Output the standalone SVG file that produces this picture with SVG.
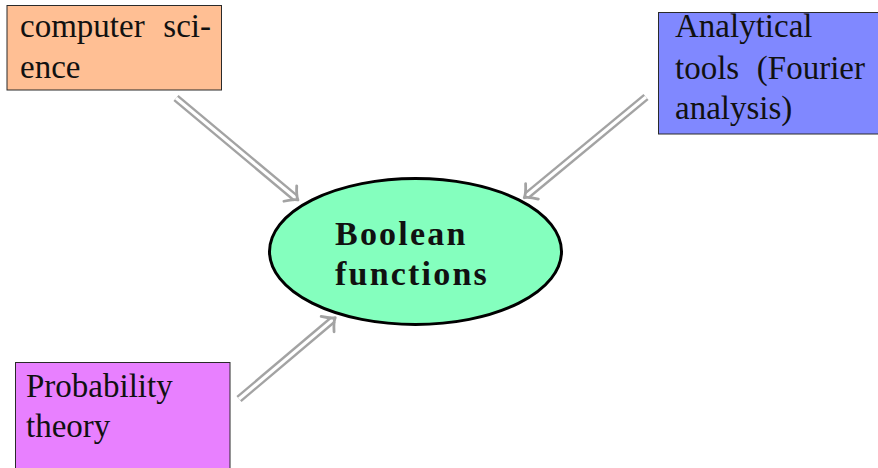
<svg xmlns="http://www.w3.org/2000/svg" width="878" height="468" viewBox="0 0 878 468">
  <style>
    .box { stroke: #2a2a2a; stroke-width: 1; }
    .lbl { font-family: "Liberation Serif", "DejaVu Serif", serif; font-size: 33px; fill: #111; }
    .bold { font-weight: bold; font-size: 34px; letter-spacing: 2.2px; }
    .outer { stroke: #a3a3a3; stroke-width: 8; fill: none; }
    .inner { stroke: #ffffff; stroke-width: 3.2; fill: none; }
    .head { stroke: #a3a3a3; stroke-width: 2.8; fill: none; stroke-linecap: round; stroke-linejoin: round; }
  </style>
  <rect width="878" height="468" fill="#ffffff"/>

  <g id="connectors">
    <!-- computer science -> Boolean functions -->
    <g transform="translate(176,98) rotate(39.9)">
      <line class="outer" x1="0" y1="0" x2="156" y2="0"/>
      <line class="inner" x1="0" y1="0" x2="156" y2="0"/>
      <path class="head" d="M149,-10 Q155,-2 159,0 Q155,2 149,10"/>
    </g>
    <!-- Analytical tools -> Boolean functions -->
    <g transform="translate(646,97) rotate(140.4)">
      <line class="outer" x1="0" y1="0" x2="155" y2="0"/>
      <line class="inner" x1="0" y1="0" x2="155" y2="0"/>
      <path class="head" d="M148,-10 Q154,-2 158,0 Q154,2 148,10"/>
    </g>
    <!-- Probability theory -> Boolean functions -->
    <g transform="translate(239,399) rotate(-40.2)">
      <line class="outer" x1="0" y1="0" x2="123" y2="0"/>
      <line class="inner" x1="0" y1="0" x2="123" y2="0"/>
      <path class="head" d="M116,-10 Q122,-2 126,0 Q122,2 116,10"/>
    </g>
  </g>

  <g id="computer-science">
    <rect class="box" x="7" y="5.5" width="214.5" height="84.5" fill="#ffbf94"/>
    <text class="lbl" x="20" y="37">computer</text>
    <text class="lbl" x="211" y="37" text-anchor="end">sci-</text>
    <text class="lbl" x="20" y="78">ence</text>
  </g>

  <g id="analytical-tools">
    <rect class="box" x="658.5" y="12.5" width="225" height="121.5" fill="#8088ff"/>
    <text class="lbl" x="675" y="37">Analytical</text>
    <text class="lbl" x="675" y="79">tools</text>
    <text class="lbl" x="865" y="79" text-anchor="end">(Fourier</text>
    <text class="lbl" x="675" y="119">analysis)</text>
  </g>

  <g id="probability-theory">
    <rect class="box" x="15.5" y="362.5" width="214.5" height="112" fill="#e880ff"/>
    <text class="lbl" x="26" y="397">Probability</text>
    <text class="lbl" x="26" y="437">theory</text>
  </g>

  <g id="boolean-functions">
    <ellipse cx="415.5" cy="251.5" rx="146" ry="73" fill="#84ffbe" stroke="#000" stroke-width="3"/>
    <text class="lbl bold" x="335" y="245">Boolean</text>
    <text class="lbl bold" x="335" y="285">functions</text>
  </g>
</svg>
